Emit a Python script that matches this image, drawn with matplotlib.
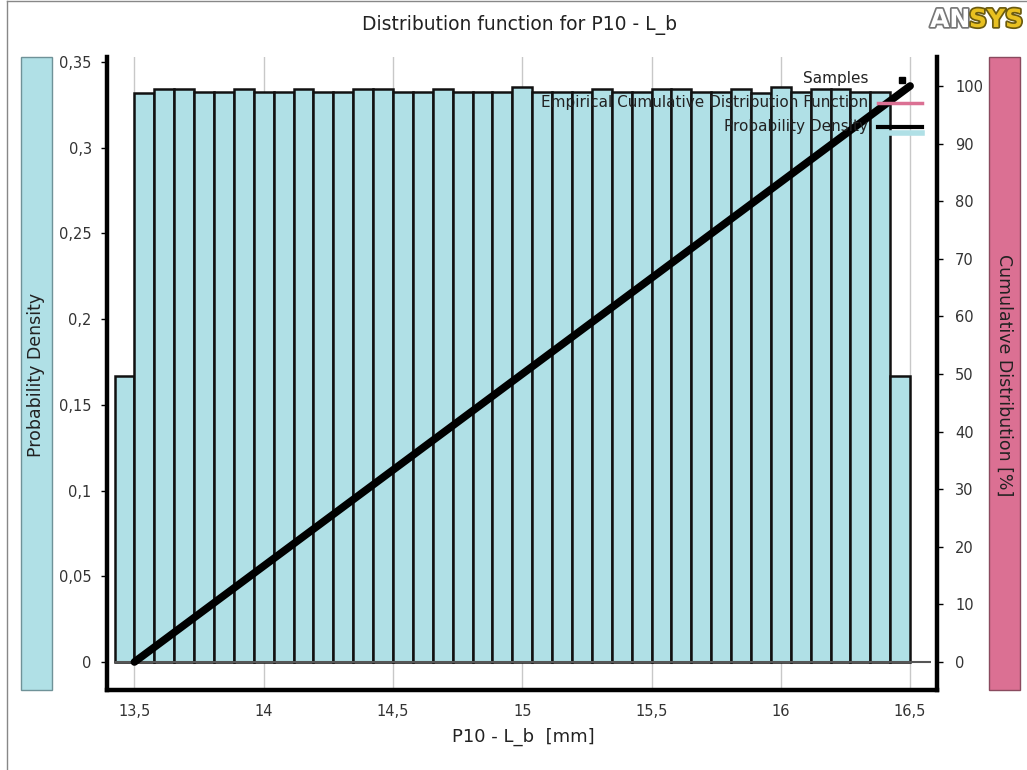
import numpy as np
import matplotlib
matplotlib.use('Agg')
import matplotlib.pyplot as plt
from matplotlib.patches import Rectangle
from matplotlib.lines import Line2D
import matplotlib.patheffects as pe
from matplotlib.ticker import FuncFormatter

# データ
bin_start = 13.5 - 3.0 / 39
bin_width = 3.0 / 39
density = [0.167, 0.3318, 0.3343, 0.3343, 0.3327, 0.3327, 0.3343, 0.3327, 0.3327, 0.3343,
           0.3327, 0.3327, 0.3343, 0.3343, 0.3327, 0.3327, 0.3343, 0.3327, 0.3327, 0.3327,
           0.3355, 0.3327, 0.3327, 0.3327, 0.3343, 0.3327, 0.3327, 0.3343, 0.3343, 0.3327,
           0.3327, 0.3343, 0.3318, 0.3355, 0.3327, 0.3343, 0.3343, 0.3327, 0.3327, 0.167]
cdf_x = [13.5, 16.5]
cdf_y = [0, 100]
x_ticks = [13.5, 14, 14.5, 15, 15.5, 16, 16.5]
y_ticks = [0, 0.05, 0.1, 0.15, 0.2, 0.25, 0.3, 0.35]
y2_ticks = [0, 10, 20, 30, 40, 50, 60, 70, 80, 90, 100]

title = 'Distribution function for P10 - L_b'
xlabel = 'P10 - L_b  [mm]'
ylabel = 'Probability Density'
y2label = 'Cumulative Distribution [%]'
legend_labels = ['Samples', 'Empirical Cumulative Distribution Function', 'Probability Density']

W, H = 1027, 770
def fx(x):
    return x / W
def fy(y):
    return 1 - y / H

comma = FuncFormatter(lambda v, p: '{:g}'.format(v).replace('.', ','))

fig = plt.figure(figsize=(W / 100, H / 100), dpi=100)
ax = fig.add_axes([fx(107), fy(690), fx(937) - fx(107), fy(57) - fy(690)])
ax2 = ax.twinx()

# ヒストグラム
lefts = bin_start + bin_width * np.arange(len(density))
ax.bar(lefts, density, width=bin_width, align='edge', color='#b0e0e6',
       edgecolor='#111111', linewidth=1.8, zorder=2)
ax.hlines(0, lefts[0], 16.58, color='#555555', linewidth=1.5, zorder=3)

ax.set_xlim(13.394, 16.604)
ax.set_ylim(-0.01633, 0.3529)
ax2.set_ylim(-4.86, 105.03)

ax.set_xticks(x_ticks)
ax.set_yticks(y_ticks)
ax2.set_yticks(y2_ticks)
ax.xaxis.set_major_formatter(comma)
ax.yaxis.set_major_formatter(comma)

ax.set_axisbelow(True)
ax.grid(axis='x', color='#c8c8c8', linewidth=1)

# CDF
ax2.plot(cdf_x, cdf_y, color='black', linewidth=5.5, solid_capstyle='round', zorder=5)

for s in ['top', 'right']:
    ax.spines[s].set_visible(False)
for s in ['top', 'left', 'bottom']:
    ax2.spines[s].set_visible(False)
ax.spines['left'].set_linewidth(3.2)
ax.spines['bottom'].set_linewidth(3.2)
ax2.spines['right'].set_linewidth(3.2)

ax.tick_params(axis='y', length=4, width=1, pad=7, labelsize=10.5, labelcolor='#333333')
ax.tick_params(axis='x', length=0, pad=10, labelsize=10.5, labelcolor='#333333')
ax2.tick_params(axis='y', length=4, width=1, pad=9, labelsize=10.5, labelcolor='#333333')

# タイトル・ラベル
fig.text(fx(520), fy(25), title, ha='center', va='center', fontsize=13.5, color='#222222')
fig.text(fx(523), fy(737), xlabel, ha='center', va='center', fontsize=13, color='#222222')

fig.add_artist(Rectangle((fx(21), fy(690)), fx(31), fy(57) - fy(690), transform=fig.transFigure,
                         facecolor='#b0e0e6', edgecolor='#6f9298', linewidth=1))
fig.add_artist(Rectangle((fx(989), fy(690)), fx(31), fy(57) - fy(690), transform=fig.transFigure,
                         facecolor='#db7093', edgecolor='#8a4a5e', linewidth=1))
fig.text(fx(36), fy(375), ylabel, rotation=90, ha='center', va='center', fontsize=12.5, color='#222222')
fig.text(fx(1004), fy(375), y2label, rotation=270, ha='center', va='center', fontsize=12.5, color='#222222')

# 凡例
for lab, yy in zip(legend_labels, [78, 102, 126]):
    fig.text(fx(868), fy(yy), lab, ha='right', va='center', fontsize=11, color='#222222', zorder=10)
fig.add_artist(Line2D([fx(902)], [fy(80)], marker='s', markersize=4, color='black', linestyle='none'))
fig.add_artist(Line2D([fx(878), fx(922)], [fy(103), fy(103)], color='#db7093', linewidth=2.5))
fig.add_artist(Line2D([fx(878), fx(922)], [fy(133), fy(133)], color='#b0e0e6', linewidth=4))
fig.add_artist(Line2D([fx(878), fx(922)], [fy(127), fy(127)], color='black', linewidth=3))

# 枠
fig.add_artist(Line2D([fx(7), fx(7)], [0, fy(1)], color='#888888', linewidth=1))
fig.add_artist(Line2D([fx(7), 1], [fy(1), fy(1)], color='#888888', linewidth=1))

# ロゴ
fig.text(fx(930), fy(20), 'AN', ha='left', va='center', fontsize=18, fontweight='bold',
         color='white', path_effects=[pe.withStroke(linewidth=2.5, foreground='#777777')])
fig.text(fx(969), fy(20), 'SYS', ha='left', va='center', fontsize=18, fontweight='bold',
         color='#e8c020', path_effects=[pe.withStroke(linewidth=2.5, foreground='#6a5a10')])

plt.savefig('out.png', dpi=100)
